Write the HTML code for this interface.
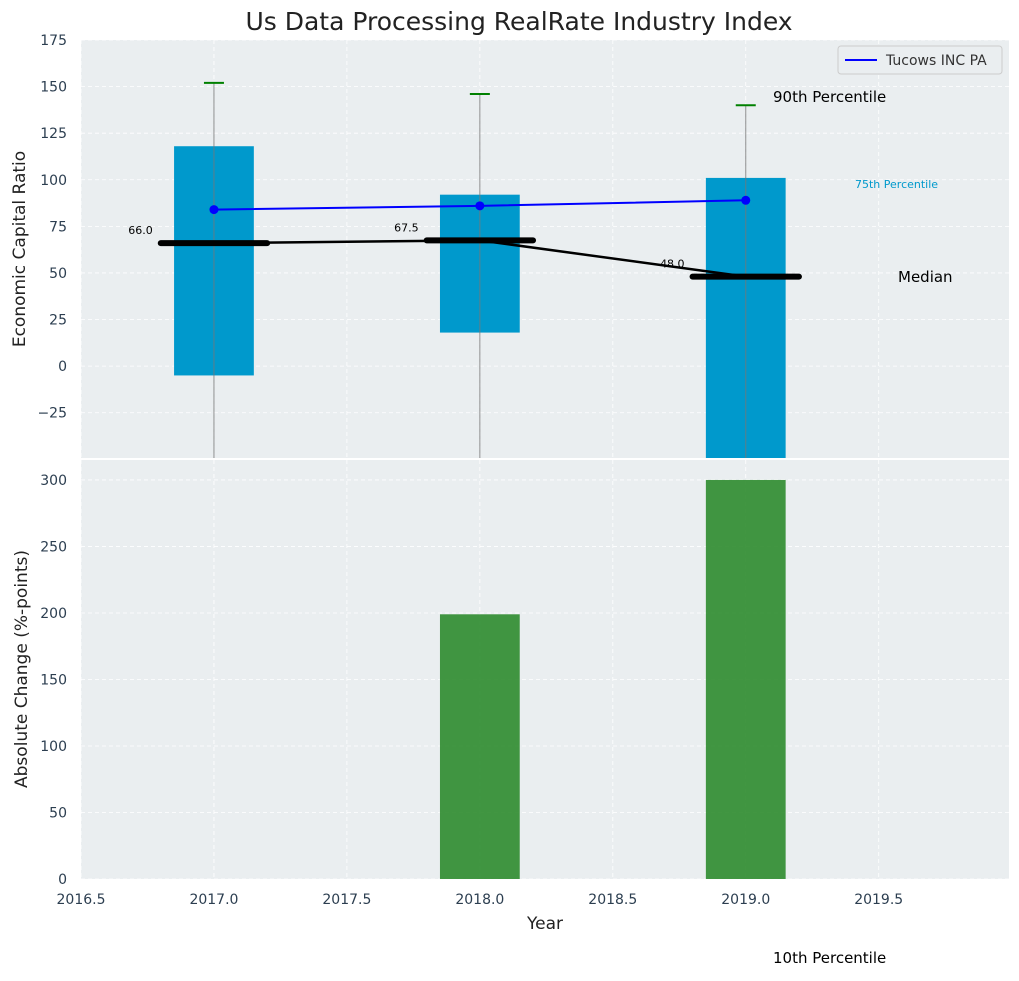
<!DOCTYPE html>
<html><head><meta charset="utf-8"><style>
body{margin:0;background:#fff;font-family:"Liberation Sans","DejaVu Sans",sans-serif}
svg text{font-family:"DejaVu Sans","Liberation Sans",sans-serif}
</style></head><body>
<svg id="c" width="1019" height="976" xmlns="http://www.w3.org/2000/svg"></svg>
<script>
const years=[2017,2018,2019];
const q10=[-60,-60,-60];
const q25=[-5,18,-55];
const q75=[118,92,101];
const q90=[152,146,140];
const medians=[66,67.5,48];
const company=[84,86,89];
const changes=[0,199,300];
const xTicks=[2016.5,2017,2017.5,2018,2018.5,2019,2019.5];
const topTicks=[-25,0,25,50,75,100,125,150,175];
const botTicks=[0,50,100,150,200,250,300];

const L=81,R=1009,T1=40,B1=458,T2=460,B2=879;
const X=v=>L+(v-2016.5)/(3.49)*(R-L);
const Y1=v=>B1-(v+49.3)/(224.3)*(B1-T1);
const Y2=v=>B2-v/315*(B2-T2);
const s=document.getElementById('c');
function el(t,a,txt){const e=document.createElementNS('http://www.w3.org/2000/svg',t);for(const k in a)e.setAttribute(k,a[k]);if(txt!=null)e.textContent=txt;s.appendChild(e);return e;}
let e;
e=el('rect',{x:L,y:T1,width:R-L,height:B1-T1,fill:'#eaeef0'});


e=el('rect',{x:L,y:T2,width:R-L,height:B2-T2,fill:'#eaeef0'});


xTicks.forEach(v=>{
 el('line',{x1:X(v),x2:X(v),y1:T1,y2:B1,stroke:'#fff','stroke-dasharray':'4,3','stroke-width':0.8});
 el('line',{x1:X(v),x2:X(v),y1:T2,y2:B2,stroke:'#fff','stroke-dasharray':'4,3','stroke-width':0.8});
 e=el('text',{x:X(v),y:904,'text-anchor':'middle','font-size':14,fill:'#2c3e50'},v.toFixed(1));
 
 
});
topTicks.forEach(v=>{
 el('line',{x1:L,x2:R,y1:Y1(v),y2:Y1(v),stroke:'#fff','stroke-dasharray':'4,3','stroke-width':0.8});
 e=el('text',{x:L-14,y:Y1(v)+5,'text-anchor':'end','font-size':14,fill:'#2c3e50'},v<0?'\u2212'+(-v):v);
 
 
});
botTicks.forEach(v=>{
 el('line',{x1:L,x2:R,y1:Y2(v),y2:Y2(v),stroke:'#fff','stroke-dasharray':'4,3','stroke-width':0.8});
 e=el('text',{x:L-14,y:Y2(v)+5,'text-anchor':'end','font-size':14,fill:'#2c3e50'},v);
 
 
});
const bw=0.3;
years.forEach((yr,i)=>{
 const lo=Math.max(q25[i],-49.3);
 e=el('rect',{x:X(yr-bw/2),y:Y1(q75[i]),width:X(yr+bw/2)-X(yr-bw/2),height:Y1(lo)-Y1(q75[i]),fill:'#0099cc'});
 
 
 e=el('line',{x1:X(yr),x2:X(yr),y1:Y1(q90[i]),y2:Y1(Math.max(q10[i],-49.3)),stroke:'#777','stroke-width':1,opacity:0.8});
 
 
 e=el('line',{x1:X(yr)-10,x2:X(yr)+10,y1:Y1(q90[i]),y2:Y1(q90[i]),stroke:'green','stroke-width':2});
 
 
 e=el('line',{x1:X(yr-0.2),x2:X(yr+0.2),y1:Y1(medians[i]),y2:Y1(medians[i]),stroke:'#000','stroke-width':6,'stroke-linecap':'round'});
 
 
 e=el('text',{x:X(yr-0.2)-8,y:Y1(medians[i])-9,'text-anchor':'end','font-size':11,fill:'#000'},medians[i].toFixed(1));
 
 
 if(changes[i]>0){
  e=el('rect',{x:X(yr-bw/2),y:Y2(changes[i]),width:X(yr+bw/2)-X(yr-bw/2),height:Y2(0)-Y2(changes[i]),fill:'#2e8b2e',opacity:0.9});
  
  
 }
});
e=el('polyline',{points:years.map((y,i)=>X(y)+','+Y1(medians[i])).join(' '),fill:'none',stroke:'#000','stroke-width':2.5});


e=el('polyline',{points:years.map((y,i)=>X(y)+','+Y1(company[i])).join(' '),fill:'none',stroke:'blue','stroke-width':2});


years.forEach((y,i)=>{e=el('circle',{cx:X(y),cy:Y1(company[i]),r:4.5,fill:'blue'});
 
 });
el('line',{x1:L,x2:R,y1:459,y2:459,stroke:'#fff','stroke-width':2});
e=el('text',{x:519,y:30,'text-anchor':'middle','font-size':25,fill:'#222'},'Us Data Processing RealRate Industry Index');


e=el('text',{x:545,y:929,'text-anchor':'middle','font-size':17,fill:'#222'},'Year');


e=el('text',{x:25,y:249,'text-anchor':'middle','font-size':17,fill:'#222',transform:'rotate(-90 25 249)'},'Economic Capital Ratio');


e=el('text',{x:27,y:669,'text-anchor':'middle','font-size':17,fill:'#222',transform:'rotate(-90 27 669)'},'Absolute Change (%-points)');


e=el('text',{x:773,y:102,'font-size':15,fill:'#000'},'90th Percentile');


e=el('text',{x:855,y:188,'font-size':11,fill:'#0099cc'},'75th Percentile');


e=el('text',{x:898,y:282,'font-size':15,fill:'#000'},'Median');


e=el('text',{x:773,y:963,'font-size':15,fill:'#000'},'10th Percentile');


e=el('rect',{x:838,y:46,width:164,height:28,rx:3,fill:'#eaeef0',stroke:'#ccc'});


el('line',{x1:845,x2:877,y1:60,y2:60,stroke:'blue','stroke-width':2});
e=el('text',{x:886,y:65,'font-size':14,fill:'#333'},'Tucows INC PA');


</script>
</body></html>
